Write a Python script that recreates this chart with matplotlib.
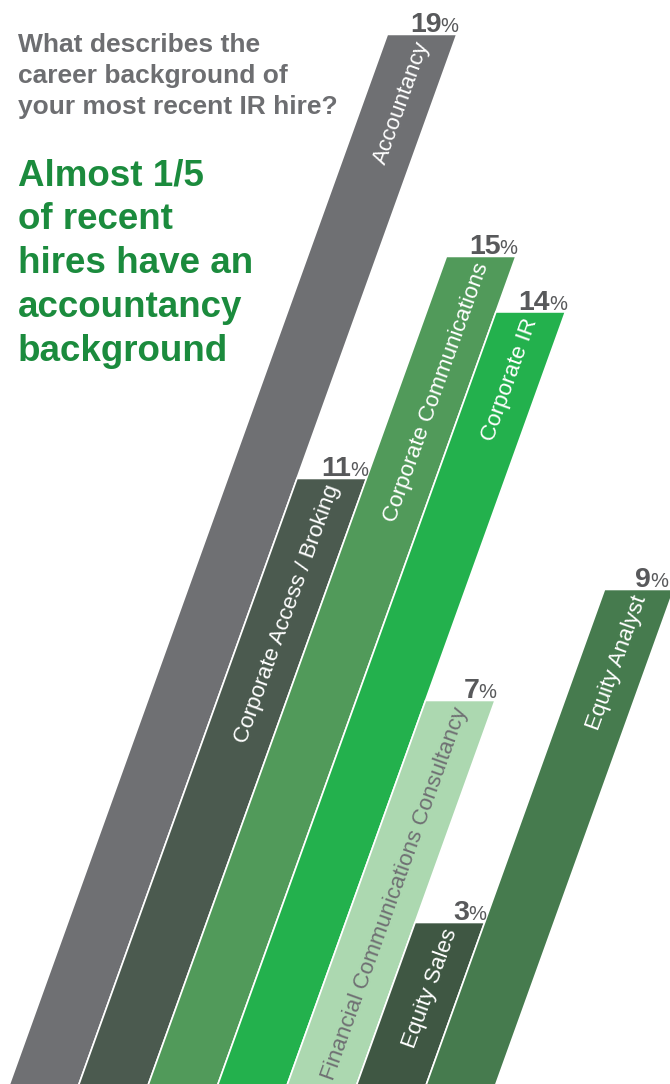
import matplotlib
matplotlib.use('Agg')  # no UI backend

import numpy as np
import matplotlib.pyplot as plt

categories = ["Accountancy", "Corporate Access / Broking", "Corporate Communications",
              "Corporate IR", "Financial Communications Consultancy", "Equity Sales",
              "Equity Analyst"]
values = [19, 11, 15, 14, 7, 3, 9]
bar_colors = ["#6f7073", "#4b5a4f", "#519a5a", "#23b14d", "#acd8b0", "#3f5743", "#467b4e"]
text_colors = ["white", "white", "white", "white", "#6f7073", "white", "white"]

lean = 0.2875  # sideways shift of a bar per percentage point
num_color = "#58595b"

fig = plt.figure(figsize=(6.7, 10.84), dpi=100)
ax = fig.add_axes([0, 0, 1, 1])
ax.set_xlim(-0.111, 9.53)
ax.set_ylim(0.09, 19.62)
ax.axis('off')

# angle of the slanted bars on screen
p0 = ax.transData.transform((0, 0))
p1 = ax.transData.transform((lean, 1))
angle = np.degrees(np.arctan2(p1[1] - p0[1], p1[0] - p0[0]))

for i, (cat, v) in enumerate(zip(categories, values)):
    xs = [i, i + 1, i + 1 + lean * v, i + lean * v]
    ys = [0, 0, v, v]
    ax.fill(xs, ys, color=bar_colors[i], ec='white', lw=1.2, zorder=2 + i)

    # category name running up the bar
    ty = v - 0.13
    ax.text(i + 0.56 + lean * ty, ty, cat, rotation=angle, rotation_mode='anchor',
            ha='right', va='center', fontsize=16.2, color=text_colors[i],
            family='Liberation Sans', zorder=20)

    # value label above the top right corner (kept inside the canvas)
    xr = min(i + 1 + lean * v, 9.48)
    ax.annotate("%", (xr, v), xytext=(1, 1.5), textcoords='offset points',
                ha='right', va='baseline', fontsize=14.5, color=num_color,
                family='Liberation Sans', zorder=20, annotation_clip=False)
    ax.annotate(str(v), (xr, v), xytext=(-11, 1.5), textcoords='offset points',
                ha='right', va='baseline', fontsize=20.5, fontweight='bold',
                color=num_color, family='Liberation Sans', zorder=20,
                annotation_clip=False)

fig.text(18 / 670, 1 - 33.5 / 1084,
         "What describes the\ncareer background of\nyour most recent IR hire?",
         ha='left', va='top', fontsize=19, fontweight='bold', color="#6d6e71",
         family='Liberation Sans', linespacing=1.36)

fig.text(18 / 670, 1 - 158 / 1084,
         "Almost 1/5\nof recent\nhires have an\naccountancy\nbackground",
         ha='left', va='top', fontsize=26.5, fontweight='bold', color="#1b8b3d",
         family='Liberation Sans', linespacing=1.33)

fig.savefig("out.png", dpi=100)
